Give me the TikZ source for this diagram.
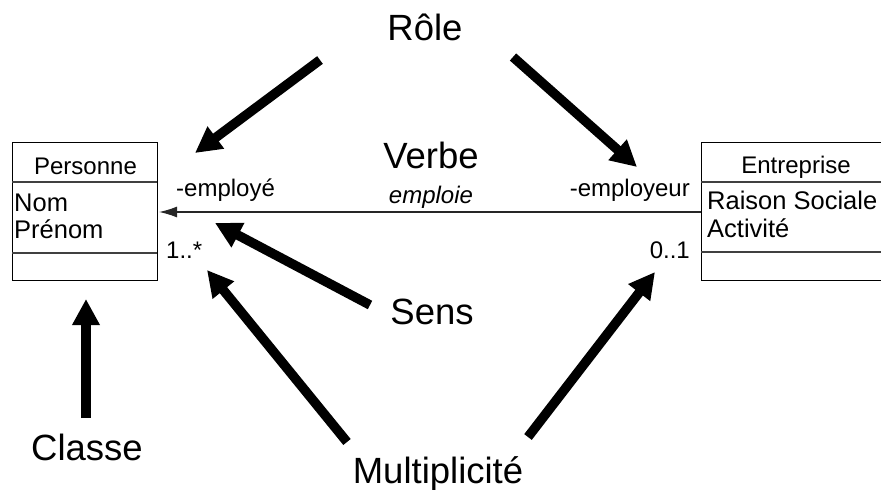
\documentclass[tikz,border=0pt]{standalone}
\usepackage{fontspec}
\setmainfont{Liberation Sans}
\usetikzlibrary{arrows.meta}
\tikzset{
  small/.style={font=\fontsize{24}{27}\selectfont, inner sep=0pt},
  attr/.style={font=\fontsize{25.5}{27}\selectfont, inner sep=0pt},
  big/.style={font=\fontsize{36.5}{40}\selectfont, inner sep=0pt},
  bigarrow/.style={line width=9.5pt, -{Triangle[length=26pt,width=26pt]}},
  boxline/.style={line width=1.3pt},
  sepline/.style={line width=1.3pt, black!75},
  assoc/.style={line width=1.3pt, black!85, -{Latex[length=18pt,width=11pt]}},
}
\begin{document}
\begin{tikzpicture}[x=1pt,y=-1pt]
\useasboundingbox (0,0) rectangle (881,490);
% Personne class
\node[draw, boxline, minimum width=145pt, minimum height=138pt, anchor=north west, inner sep=0pt] (pers) at (12,142) {};
\draw[sepline] (12,182) -- (157,182);
\draw[sepline] (12,253) -- (157,253);
\node[small, anchor=base] (tpers) at (85.5,174) {Personne};
\node[attr, anchor=base west] (nom) at (14,211) {Nom};
\node[attr, anchor=base west] (prenom) at (14,238) {Prénom};
% Entreprise class
\node[draw, boxline, minimum width=200pt, minimum height=138pt, anchor=north west, inner sep=0pt] (ent) at (701,142) {};
\draw[sepline] (701,182) -- (890,182);
\draw[sepline] (701,252) -- (890,252);
\node[small, anchor=base] (tent) at (796,173) {Entreprise};
\node[attr, anchor=base west] (rs) at (707,209) {Raison Sociale};
\node[attr, anchor=base west] (act) at (707,237) {Activité};
% association
\coordinate (astart) at (701,212);
\coordinate (aend) at (159,212);
\draw[assoc] (astart) -- (aend);
\node[small, anchor=base west] (r1) at (176,196) {-employé};
\node[small, anchor=base west] (m1) at (166,258) {1..*};
\node[small, anchor=base east] (r2) at (690,196) {-employeur};
\node[small, anchor=base east] (m2) at (690,258) {0..1};
\node[small, anchor=base, font=\fontsize{24}{27}\selectfont\itshape] (verb) at (431,203) {emploie};
% big labels
\node[big, anchor=base] (role) at (425,40) {Rôle};
\node[big, anchor=base] (verbe) at (431,168) {Verbe};
\node[big, anchor=base] (sens) at (432,324) {Sens};
\node[big, anchor=base] (classe) at (87,460) {Classe};
\node[big, anchor=base] (multi) at (438,483) {Multiplicité};
% big arrows
\coordinate (rl0) at (320,60);  \coordinate (rl1) at (195,153);
\coordinate (rr0) at (513,57);  \coordinate (rr1) at (637,167);
\coordinate (s0) at (370,305);  \coordinate (s1) at (215,223);
\coordinate (ml0) at (347,442); \coordinate (ml1) at (207,270);
\coordinate (mr0) at (528,437); \coordinate (mr1) at (655,272);
\coordinate (c0) at (86,418);   \coordinate (c1) at (86,299);
\draw[bigarrow] (rl0) -- (rl1);
\draw[bigarrow] (rr0) -- (rr1);
\draw[bigarrow] (s0) -- (s1);
\draw[bigarrow] (ml0) -- (ml1);
\draw[bigarrow] (mr0) -- (mr1);
\draw[bigarrow] (c0) -- (c1);
\end{tikzpicture}
\end{document}
